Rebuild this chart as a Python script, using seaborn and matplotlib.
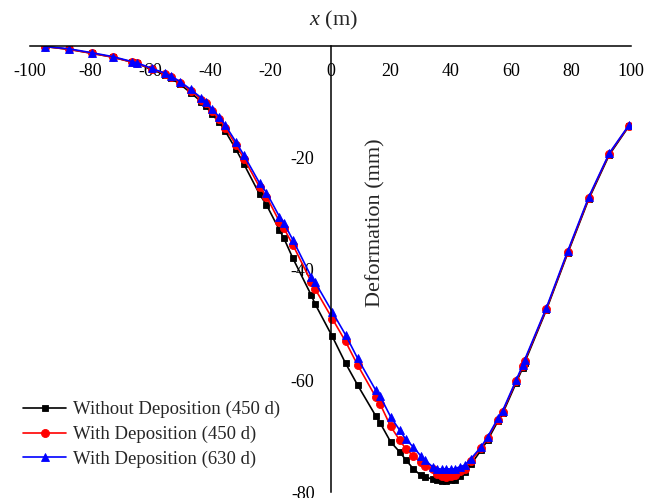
import matplotlib
matplotlib.use("Agg")
import matplotlib.pyplot as plt
import seaborn as sns
import pandas as pd

sns.set_style("white")
plt.rcParams['font.family'] = ['Liberation Serif', 'DejaVu Serif']
plt.rcParams['mathtext.fontset'] = 'custom'
plt.rcParams['mathtext.rm'] = 'Liberation Serif'
plt.rcParams['mathtext.it'] = 'Liberation Serif:italic'
plt.rcParams['axes.unicode_minus'] = False

x_m = [-95, -87, -79.5, -72.5, -66, -64.5, -59.5, -55, -53, -50, -46.5, -43, -41.5,
       -39.5, -37, -35, -31.5, -28.8, -23.6, -21.3, -17, -15.5, -12.5, -6.4, -5.2,
       0.6, 5, 9, 15, 16.5, 20, 23, 25, 27.5, 30, 31.5, 34, 35.5, 37, 38.5, 40, 41.5,
       43, 44.6, 46.8, 50.1, 52.3, 55.7, 57.3, 61.8, 64, 64.6, 71.8, 79, 86, 92.8, 99.3]

without_450 = [-0.1, -0.6, -1.3, -2.0, -2.9, -3.1, -4.2, -5.2, -5.8, -6.9, -8.4, -10.0, -10.8,
               -12.2, -13.7, -15.3, -18.5, -21.2, -26.6, -28.5, -33.0, -34.5, -38.1, -44.7, -46.2,
               -52.1, -56.9, -60.8, -66.3, -67.6, -71.0, -72.8, -74.2, -75.8, -77.0, -77.3, -77.7,
               -77.9, -78.0, -78.0, -77.9, -77.8, -77.2, -76.5, -75.0, -72.5, -70.7, -67.3, -65.9,
               -60.4, -57.7, -56.8, -47.4, -37.1, -27.4, -19.5, -14.4]

with_450 = [-0.1, -0.6, -1.3, -2.0, -2.9, -3.1, -4.1, -5.0, -5.5, -6.6, -8.0, -9.6, -10.3,
            -11.7, -13.1, -14.7, -17.7, -20.2, -25.3, -27.0, -31.5, -32.7, -35.7, -42.3, -43.5,
            -48.9, -53.0, -57.2, -62.9, -64.2, -68.2, -70.7, -72.2, -73.5, -74.6, -75.3, -75.9,
            -76.8, -77.2, -77.3, -77.2, -77.0, -76.3, -75.8, -74.4, -72.1, -70.3, -67.0, -65.6,
            -60.1, -57.4, -56.5, -47.2, -36.9, -27.2, -19.3, -14.3]

with_630 = [-0.1, -0.5, -1.2, -1.9, -2.8, -3.0, -4.0, -4.9, -5.4, -6.4, -7.8, -9.3, -10.0,
            -11.3, -12.7, -14.2, -17.2, -19.6, -24.6, -26.3, -30.6, -31.8, -34.8, -41.4, -42.3,
            -47.7, -51.8, -56.0, -61.7, -62.8, -66.5, -68.9, -70.5, -71.9, -73.5, -74.3, -75.5,
            -75.8, -75.9, -75.8, -75.9, -75.8, -75.5, -75.2, -74.0, -71.9, -70.1, -66.8, -65.4,
            -59.9, -57.2, -56.3, -47.0, -36.7, -27.0, -19.2, -14.2]

labels = ["Without Deposition (450 d)", "With Deposition (450 d)", "With Deposition (630 d)"]
series = [without_450, with_450, with_630]
colors = ["black", "red", "blue"]
markers = ["s", "o", "^"]
msizes = [4.8, 5.8, 6.3]

fig = plt.figure(figsize=(6.56, 4.98), dpi=100)
ax = fig.add_axes([30/656, 1-492/498, (631-30)/656, (492-46)/498])

for y, lab, c, m, ms in zip(series, labels, colors, markers, msizes):
    df = pd.DataFrame({"x": x_m, "y": y})
    sns.lineplot(data=df, x="x", y="y", ax=ax, color=c, marker=m, markersize=ms,
                 markeredgecolor=c, markeredgewidth=0.6, linewidth=1.2, label=lab)

ax.set_xlim(-100, 100)
ax.set_ylim(-80, 0)
ax.set_xticks([-100, -80, -60, -40, -20, 0, 20, 40, 60, 80, 100])
ax.set_yticks([-20, -40, -60, -80])
ax.set_xlabel("")
ax.set_ylabel("")

for s in ["top", "right"]:
    ax.spines[s].set_visible(False)
ax.spines["left"].set_position(("data", 0))
ax.spines["bottom"].set_position(("data", 0))
for s in ["left", "bottom"]:
    ax.spines[s].set_linewidth(1.1)
    ax.spines[s].set_color("black")

ax.tick_params(axis="x", direction="out", length=5, width=1.1, pad=7.5, labelsize=13, colors="black")
ax.tick_params(axis="y", direction="inout", length=13, width=1.1, pad=5, labelsize=13, colors="black")

fig.text(333/656, 1-20/498, "$x$ (m)", ha="center", va="center", fontsize=16)
fig.text(376/656, 1-223/498, "Deformation (mm)", ha="center", va="center", rotation=90, fontsize=16)

leg = ax.legend(loc="center left", bbox_to_anchor=(23/656, 1-434.5/498), bbox_transform=fig.transFigure,
                frameon=False, fontsize=13.5, handlelength=2.3, handletextpad=0.35,
                borderpad=0, borderaxespad=0, labelspacing=0.4)

fig.savefig("out.png", dpi=100)
